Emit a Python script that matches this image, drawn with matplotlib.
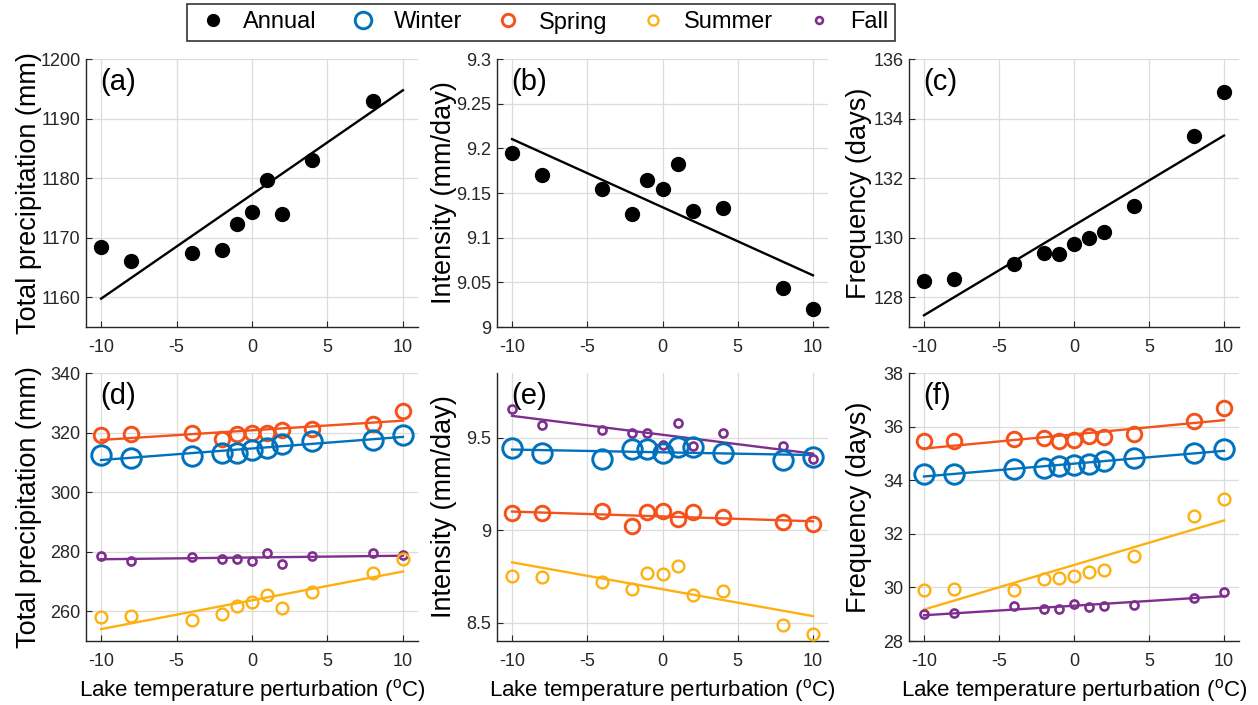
import numpy as np
import matplotlib
matplotlib.use("Agg")
import matplotlib.pyplot as plt
from matplotlib.lines import Line2D
from matplotlib.ticker import FuncFormatter

plt.rcParams['font.family'] = ['Liberation Sans', 'DejaVu Sans']
plt.rcParams['mathtext.fontset'] = 'custom'
plt.rcParams['mathtext.rm'] = 'Liberation Sans'
plt.rcParams['axes.unicode_minus'] = False

# ---- data ----
dT = [-10, -8, -4, -2, -1, 0, 1, 2, 4, 8, 10]

annual_total = [1168.5, 1166.0, 1167.5, 1168.0, 1172.3, 1174.3, 1179.7, 1174.0, 1183.0, 1193.0, 1203.5]
annual_intensity = [9.195, 9.170, 9.155, 9.126, 9.165, 9.155, 9.182, 9.130, 9.133, 9.044, 9.020]
annual_frequency = [128.55, 128.60, 129.10, 129.50, 129.45, 129.78, 130.00, 130.20, 131.05, 133.40, 134.90]

winter_total = [312.5, 311.4, 312.0, 313.3, 313.3, 314.0, 314.8, 316.1, 317.0, 317.6, 319.2]
spring_total = [319.2, 319.5, 320.0, 317.9, 319.5, 320.0, 319.8, 321.0, 321.1, 323.0, 327.3]
summer_total = [257.9, 258.3, 257.0, 259.0, 261.8, 263.1, 265.3, 261.2, 266.3, 273.0, 277.4]
fall_total = [278.7, 277.0, 278.3, 277.6, 277.6, 277.0, 279.4, 275.8, 278.7, 279.4, 279.0]

winter_intensity = [9.442, 9.415, 9.383, 9.437, 9.437, 9.419, 9.451, 9.451, 9.419, 9.379, 9.397]
spring_intensity = [9.090, 9.090, 9.103, 9.022, 9.100, 9.105, 9.058, 9.100, 9.072, 9.042, 9.032]
summer_intensity = [8.750, 8.747, 8.718, 8.679, 8.769, 8.765, 8.805, 8.648, 8.671, 8.489, 8.440]
fall_intensity = [9.655, 9.567, 9.542, 9.527, 9.527, 9.460, 9.581, 9.455, 9.523, 9.455, 9.383]

winter_frequency = [34.24, 34.25, 34.42, 34.46, 34.52, 34.55, 34.62, 34.71, 34.83, 35.02, 35.17]
spring_frequency = [35.45, 35.45, 35.52, 35.58, 35.45, 35.49, 35.64, 35.61, 35.73, 36.20, 36.70]
summer_frequency = [29.90, 29.95, 29.92, 30.30, 30.34, 30.42, 30.58, 30.65, 31.19, 32.66, 33.28]
fall_frequency = [29.02, 29.03, 29.30, 29.20, 29.20, 29.37, 29.28, 29.30, 29.34, 29.61, 29.83]

series_names = ['Annual', 'Winter', 'Spring', 'Summer', 'Fall']
panel_labels = ['(a)', '(b)', '(c)', '(d)', '(e)', '(f)']
ylabels = ['Total precipitation (mm)', 'Intensity (mm/day)', 'Frequency (days)']
xlabel = r'Lake temperature perturbation ($^{\mathrm{o}}$C)'

# ---- styles ----
styles = {
    'Annual': dict(color='black', ms=10.0, mfc='black', mew=1.0),
    'Winter': dict(color='#0072BD', ms=14.0, mfc='none', mew=2.1),
    'Spring': dict(color='#F5511A', ms=10.5, mfc='none', mew=2.1),
    'Summer': dict(color='#FDB00F', ms=8.5, mfc='none', mew=1.7),
    'Fall':   dict(color='#7E2F8E', ms=5.8, mfc='none', mew=1.9),
}

W, H = 1258, 705
fig = plt.figure(figsize=(W / 100, H / 100), dpi=100)

col_left = [86, 497, 909]
col_width = [332, 331, 330]
row_top = [59, 373]
ax_h = 268

ylims = [(1155, 1200), (9.0, 9.3), (127, 136), (250, 340), (8.4, 9.85), (28, 38)]
yticks = [np.arange(1160, 1201, 10), np.arange(9.0, 9.301, 0.05), np.arange(128, 136.1, 2),
          np.arange(260, 341, 20), [8.5, 9.0, 9.5], np.arange(28, 38.1, 2)]
label_x = [-0.132, -0.122, -0.112]

x = np.array(dT, dtype=float)
xl = np.array([min(dT), max(dT)], dtype=float)

top_data = [annual_total, annual_intensity, annual_frequency]
bottom_data = [
    [('Spring', spring_total), ('Winter', winter_total), ('Fall', fall_total), ('Summer', summer_total)],
    [('Fall', fall_intensity), ('Winter', winter_intensity), ('Spring', spring_intensity), ('Summer', summer_intensity)],
    [('Spring', spring_frequency), ('Winter', winter_frequency), ('Summer', summer_frequency), ('Fall', fall_frequency)],
]

def style_axes(ax, k, col):
    ax.set_xlim(-11, 11)
    ax.set_ylim(*ylims[k])
    ax.set_xticks([-10, -5, 0, 5, 10])
    ax.set_yticks(yticks[k])
    ax.yaxis.set_major_formatter(FuncFormatter(lambda v, p: ('%.2f' % v).rstrip('0').rstrip('.')))
    ax.grid(True, color='#DCDCDC', lw=0.9)
    ax.set_axisbelow(True)
    for s in ['top', 'right']:
        ax.spines[s].set_visible(False)
    for s in ['left', 'bottom']:
        ax.spines[s].set_color('#262626')
        ax.spines[s].set_linewidth(1.0)
    ax.tick_params(direction='in', length=4, width=0.8, colors='#262626',
                   labelsize=13, labelcolor='#262626')
    ax.tick_params(axis='x', pad=9)
    ax.tick_params(axis='y', pad=4)
    ax.set_ylabel(ylabels[col], fontsize=19.5)
    ax.yaxis.set_label_coords(label_x[col], 0.5)
    ax.text(0.042, 0.915, panel_labels[k], transform=ax.transAxes, fontsize=21,
            ha='left', va='center')

axes = []
for r in range(2):
    for c in range(3):
        k = r * 3 + c
        rect = [col_left[c] / W, 1 - (row_top[r] + ax_h) / H, col_width[c] / W, ax_h / H]
        ax = fig.add_axes(rect)
        style_axes(ax, k, c)
        if r == 0:
            y = np.array(top_data[c])
            p = np.polyfit(x, y, 1)
            ax.plot(xl, np.polyval(p, xl), color='black', lw=1.7, zorder=2)
            st = styles['Annual']
            ax.plot(x, y, 'o', color=st['color'], ms=st['ms'], mfc=st['mfc'], mew=st['mew'], zorder=3)
        else:
            for name, vals in bottom_data[c]:
                y = np.array(vals)
                st = styles[name]
                p = np.polyfit(x, y, 1)
                ax.plot(xl, np.polyval(p, xl), color=st['color'], lw=1.7, zorder=2)
                ax.plot(x, y, 'o', color=st['color'], ms=st['ms'], mfc=st['mfc'],
                        mew=st['mew'], zorder=3)
            ax.set_xlabel(xlabel, fontsize=16)
            ax.xaxis.set_label_coords(0.5, -0.135)
        axes.append(ax)

handles = []
for name in series_names:
    st = styles[name]
    handles.append(Line2D([], [], ls='none', marker='o', color=st['color'], ms=st['ms'] * 0.85,
                          mfc=st['mfc'], mew=st['mew']))
leg = fig.legend(handles, series_names, loc='center', bbox_to_anchor=(541 / W, 1 - 22.5 / H),
                 ncol=5, fontsize=17, frameon=True, fancybox=False, edgecolor='black',
                 handletextpad=0.5, columnspacing=1.15, handlelength=1.6, borderpad=0.3)
leg.get_frame().set_linewidth(1.2)

fig.savefig('out.png', dpi=100)
